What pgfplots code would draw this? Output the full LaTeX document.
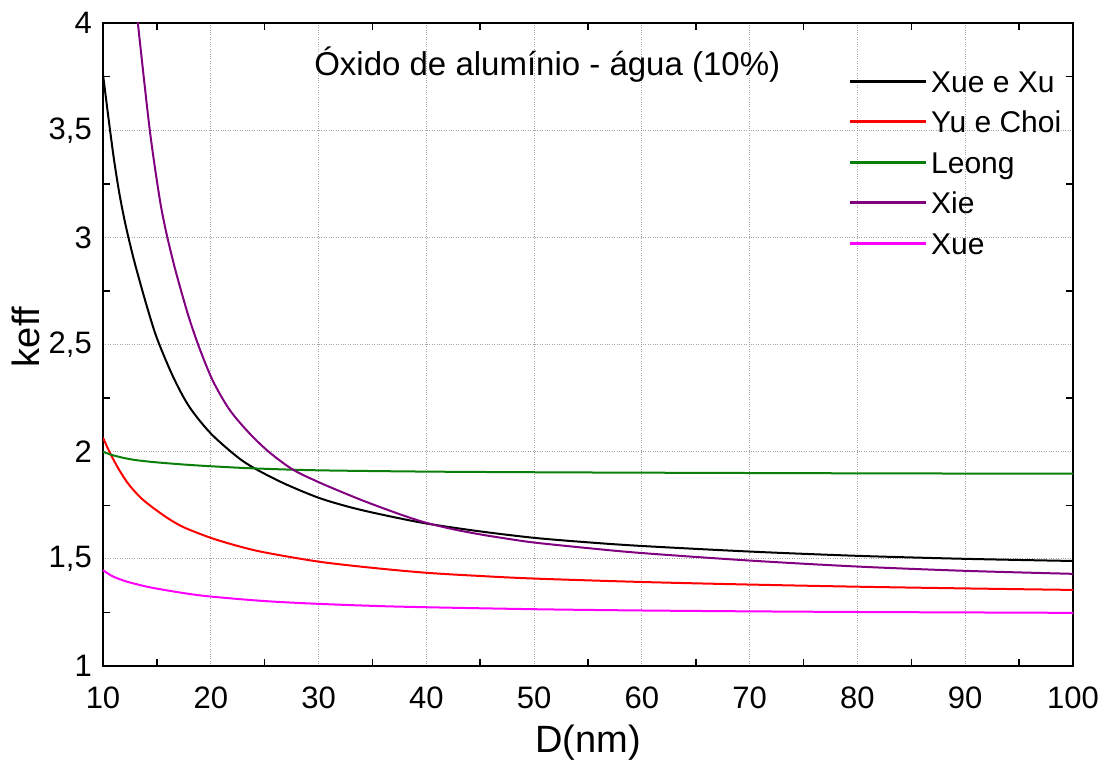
\documentclass[border=0pt]{standalone}
\usepackage{pgfplots}
\pgfplotsset{compat=1.18}
\usepackage{fontspec}
\setmainfont{Liberation Sans}
\definecolor{cgreen}{RGB}{10,128,10}
\definecolor{cpurple}{RGB}{128,0,128}
\definecolor{cmagenta}{RGB}{255,0,255}
\definecolor{cred}{RGB}{255,0,0}
\begin{document}
\begin{tikzpicture}
\path[use as bounding box] (0,0) rectangle (1107pt,764pt);
\begin{axis}[
  at={(103pt,98pt)}, anchor=south west,
  width=970pt, height=643pt, scale only axis,
  xmin=10, xmax=100, ymin=1, ymax=4,
  xtick={10,20,...,100}, ytick={1,1.5,2,2.5,3,3.5,4},
  yticklabels={1,{1,5},2,{2,5},3,{3,5},4},
  minor x tick num=1, minor y tick num=1,
  major tick length=0pt, minor tick length=7pt,
  tick align=inside, xtick pos=both, ytick pos=both,
  axis line style={line width=2pt},
  every minor tick/.style={line width=1.5pt, black},
  grid=major,
  major grid style={dotted, gray!70, line width=0.8pt},
  /pgf/number format/assume math mode=true,
  ticklabel style={font=\fontsize{31}{37}\selectfont},
  xticklabel style={anchor=center, yshift=-32pt, inner sep=0pt},
  yticklabel style={anchor=east, xshift=-11pt, inner sep=0pt},
  xlabel={D(nm)}, ylabel={keff},
  label style={font=\fontsize{38}{44}\selectfont},
  xlabel style={at={(axis description cs:0.5,-0.1198)}, anchor=center},
  ylabel style={at={(axis description cs:-0.0794,0.512)}, anchor=center},
  legend cell align=left,
  legend style={at={(rel axis cs:0.768,0.927)}, anchor=north west,
    draw=none, fill=none, inner sep=0pt, row sep=18.5pt,
    font=\fontsize{30}{36}\selectfont,
    nodes={inner sep=0pt, text height=22pt, text depth=0pt},
    /tikz/every odd column/.append style={column sep=4pt}},
  legend image code/.code={\draw[#1, line width=3pt] (0pt,0pt) -- (76pt,0pt);},
]
\addplot[black, line width=2pt, smooth] table {
x y
10 3.76
10.5 3.56
11 3.37
11.5 3.21
12 3.08
12.5 2.97
13 2.87
14 2.69
15 2.53
16.5 2.35
18 2.21
20 2.085
22.4 1.978
24 1.924
26.7 1.854
30 1.785
33 1.74
36 1.705
40 1.665
45 1.628
50 1.598
55 1.577
60 1.56
70 1.534
80 1.514
90 1.50
100 1.49
};
\addplot[cred, line width=2pt, smooth] table {
x y
10 2.065
10.5 2.01
11 1.96
11.5 1.915
12 1.875
12.5 1.84
13.5 1.785
14.6 1.74
16 1.69
17.5 1.647
20 1.598
22.5 1.56
25 1.53
30 1.487
35 1.458
40 1.435
45 1.42
50 1.408
60 1.392
70 1.38
80 1.37
90 1.362
100 1.355
};
\addplot[cgreen, line width=2pt, smooth] table {
x y
10 2.0
10.5 1.99
11 1.982
12 1.97
13 1.961
14 1.955
15 1.95
17.5 1.94
20 1.932
24 1.922
30 1.913
40 1.907
50 1.904
60 1.902
80 1.899
100 1.897
};
\addplot[cpurple, line width=2pt, smooth] table {
x y
13.0 4.11
13.19 4.02
14.33 3.505
15.26 3.18
15.88 3.02
16.65 2.86
17.42 2.72
18.04 2.615
18.97 2.48
20.2 2.33
21.75 2.195
23.6 2.085
25.46 1.996
27.63 1.916
30 1.858
32 1.815
34 1.774
36 1.736
38 1.70
40 1.668
42.5 1.638
45 1.614
47.5 1.594
50 1.576
55 1.55
60 1.527
70 1.492
80 1.464
90 1.444
100 1.43
};
\addplot[cmagenta, line width=2pt, smooth] table {
x y
10 1.447
10.5 1.430
11 1.416
12 1.397
13 1.383
14 1.371
15 1.361
17.5 1.34
20 1.324
25 1.303
30 1.29
37.5 1.277
50 1.265
60 1.259
70 1.255
80 1.252
90 1.25
100 1.248
};
\legend{Xue e Xu, Yu e Choi, Leong, Xie, Xue}
\node[font=\fontsize{33}{40}\selectfont, anchor=base] at (rel axis cs:0.458,0.919) {Óxido de alumínio - água (10\%)};
\end{axis}
\end{tikzpicture}
\end{document}
